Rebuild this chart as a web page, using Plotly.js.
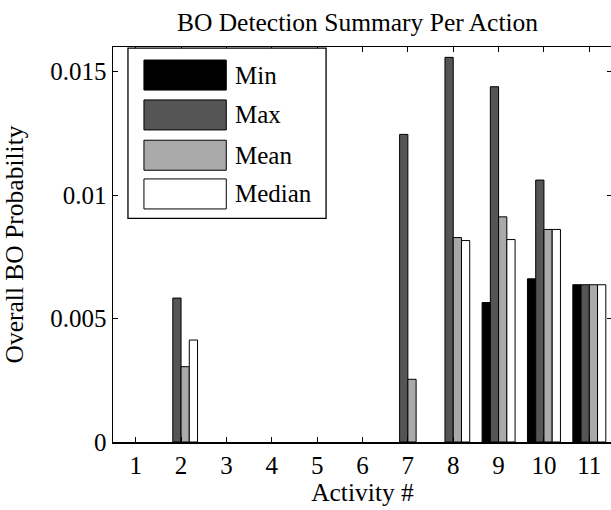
<!DOCTYPE html>
<html>
<head>
<meta charset="utf-8">
<script src="https://cdn.plot.ly/plotly-3.0.1.min.js"></script>
<style>html,body{margin:0;padding:0;background:#fff;overflow:hidden}#chart{width:612px;height:510px}</style>
</head>
<body>
<div id="chart"></div>
<script>
const activities = ['1','2','3','4','5','6','7','8','9','10','11'];
const seriesNames = ['Min','Max','Mean','Median'];
const seriesColors = ['#000000','#555555','#aaaaaa','#ffffff'];
// null = no bar drawn for that activity
const minVals    = [null, null,    null, null, null, null, null,    null,    0.00565, 0.00661, 0.00637];
const maxVals    = [null, 0.00583, null, null, null, null, 0.01246, 0.01558, 0.01439, 0.01061, 0.00637];
const meanVals   = [null, 0.00305, null, null, null, null, 0.00254, 0.00828, 0.00912, 0.00861, 0.00637];
const medianVals = [null, 0.00413, null, null, null, null, null,    0.00816, 0.00820, 0.00861, 0.00637];
const yTickVals = [0, 0.005, 0.01, 0.015];
const yTickText = ['0', '0.005', '0.01', '0.015'];

const allVals = [minVals, maxVals, meanVals, medianVals];
const FONT = 'Liberation Serif';

const traces = allVals.map((v, i) => ({
  type: 'bar',
  name: seriesNames[i],
  x: activities,
  y: v,
  marker: {color: seriesColors[i], line: {color: '#000', width: 1}},
  showlegend: false
}));

// manual legend (MATLAB-style large swatches)
const shapes = [{
  type: 'rect', xref: 'paper', yref: 'paper',
  x0: 0.030, x1: 0.427, y0: 0.566, y1: 0.997,
  line: {color: '#000', width: 1.3}, fillcolor: '#fff', layer: 'above'
}];
const annotations = [];
const rowTop = [0.967, 0.866, 0.764, 0.666];
seriesNames.forEach((n, i) => {
  const yc = rowTop[i];
  shapes.push({
    type: 'rect', xref: 'paper', yref: 'paper',
    x0: 0.062, x1: 0.227, y0: yc - 0.076, y1: yc,
    line: {color: '#000', width: 1}, fillcolor: seriesColors[i], layer: 'above'
  });
  annotations.push({
    xref: 'paper', yref: 'paper', x: 0.240, y: yc - 0.038,
    xanchor: 'left', yanchor: 'middle', showarrow: false,
    text: n, font: {family: FONT, size: 25, color: '#000'}
  });
});

const layout = {
  width: 612, height: 510,
  margin: {l: 113, r: 0, t: 47, b: 68},
  paper_bgcolor: '#fff', plot_bgcolor: '#fff',
  barmode: 'group', bargap: 0.273, bargroupgap: 0,
  font: {family: FONT, color: '#000'},
  title: {text: 'BO Detection Summary Per Action', font: {family: FONT, size: 25.5, color: '#000'},
          xref: 'paper', x: 0.49, xanchor: 'center', yref: 'container', y: 0.957, yanchor: 'middle'},
  xaxis: {
    type: 'category', range: [-0.5, 10.5],
    showline: true, linecolor: '#000', linewidth: 1.5, mirror: 'ticks',
    ticks: 'inside', ticklen: 5, tickcolor: '#000', tickwidth: 1,
    tickfont: {family: FONT, size: 25, color: '#000'},
    showgrid: false, zeroline: false,
    title: {text: 'Activity #', font: {family: FONT, size: 25.5, color: '#000'}, standoff: 2}
  },
  yaxis: {
    range: [0, 0.016], tickvals: yTickVals, ticktext: yTickText,
    showline: true, linecolor: '#000', linewidth: 1.5, mirror: 'ticks',
    ticks: 'inside', ticklen: 5, tickcolor: '#000', tickwidth: 1,
    tickfont: {family: FONT, size: 25, color: '#000'},
    showgrid: false, zeroline: false,
    title: {text: 'Overall BO Probability', font: {family: FONT, size: 25.5, color: '#000'}, standoff: 22}
  },
  shapes: shapes,
  annotations: annotations
};

Plotly.newPlot('chart', traces, layout, {displayModeBar: false, staticPlot: true});
</script>
</body>
</html>
